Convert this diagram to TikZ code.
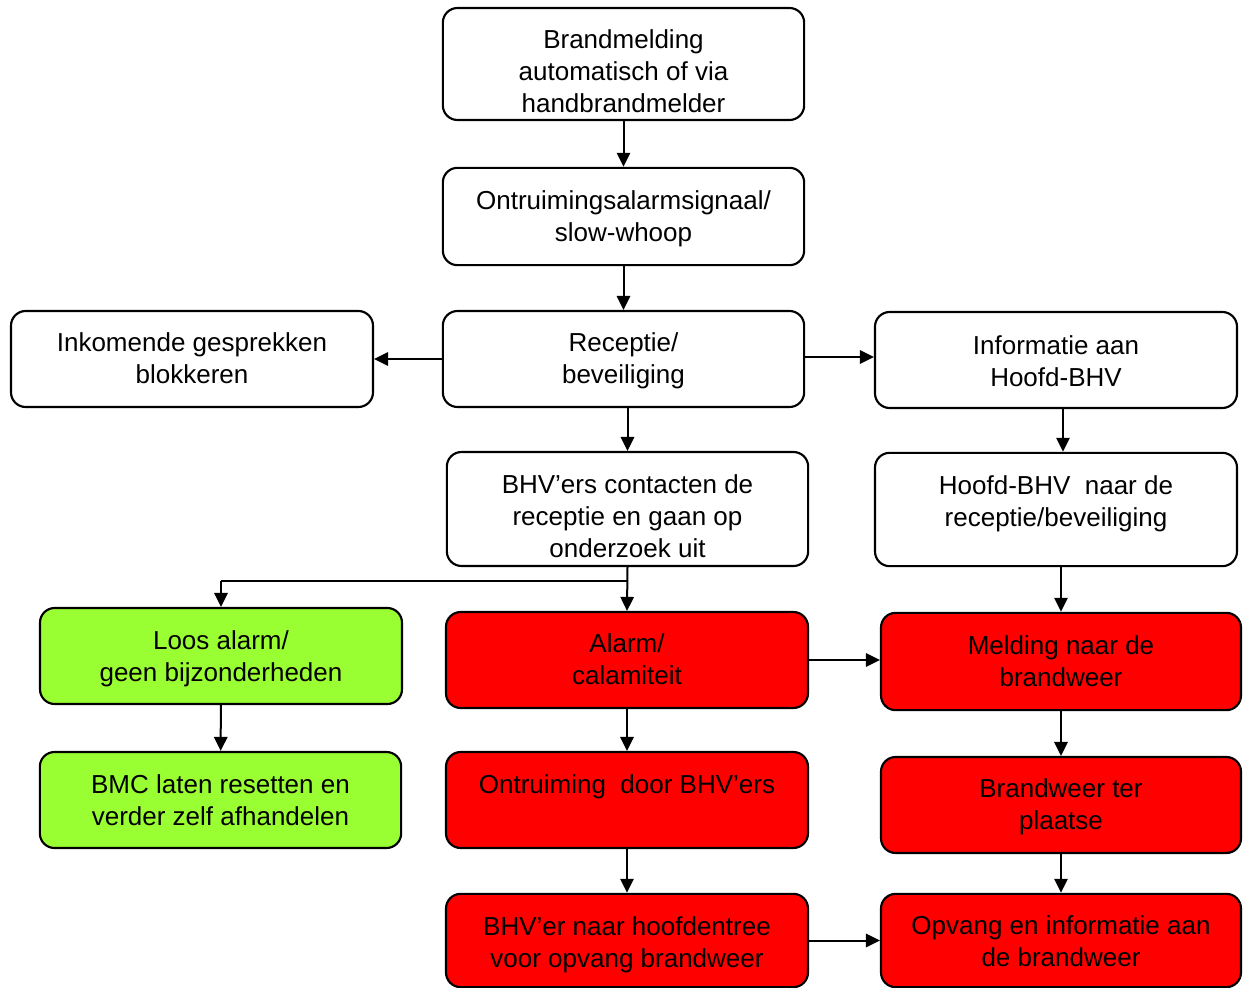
\documentclass[tikz,border=0pt]{standalone}
\usepackage{fontspec}
\setmainfont{Liberation Sans}
\usetikzlibrary{arrows.meta,calc}
\definecolor{boxgreen}{RGB}{153,255,51}
\definecolor{boxred}{RGB}{255,0,0}
\begin{document}
\begin{tikzpicture}[x=0.75pt,y=-0.75pt,
  box/.style={draw=black,line width=1.6pt,rounded corners=11pt,fill=white,inner sep=0pt},
  gbox/.style={box,fill=boxgreen},
  rbox/.style={box,fill=boxred},
  txt/.style={align=center,font=\fontsize{19.5}{24}\selectfont,inner sep=0pt},
  arr/.style={line width=1.5pt,-{Triangle[length=10.5pt,width=10pt]}}]
\useasboundingbox (0,0) rectangle (1243,988);
% boxes
\node[box,minimum width=271pt,minimum height=84pt] (b1) at (623.5,64) {};
\node[txt] at (623.5,71) {Brandmelding\\automatisch of via\\handbrandmelder};
\node[box,minimum width=271pt,minimum height=73pt] (b2) at (623.5,216.5) {};
\node[txt] at (623.5,219) {Ontruimingsalarmsignaal/\\slow-whoop};
\node[box,minimum width=271pt,minimum height=72pt] (b3) at (623.5,359) {};
\node[txt] at (623.5,361) {Receptie/\\beveiliging};
\node[box,minimum width=271.5pt,minimum height=72pt] (b4) at (192,359) {};
\node[txt] at (192,358) {Inkomende gesprekken\\blokkeren};
\node[box,minimum width=271.5pt,minimum height=72pt] (b5) at (1056,360) {};
\node[txt] at (1056,361) {Informatie aan\\Hoofd-BHV};
\node[box,minimum width=271pt,minimum height=85.5pt] (b6) at (627.5,509) {};
\node[txt] at (627.5,516) {BHV’ers contacten de\\receptie en gaan op\\onderzoek uit};
\node[box,minimum width=271.5pt,minimum height=85pt] (b7) at (1056,509.5) {};
\node[txt] at (1056,504) {Hoofd-BHV\ \ naar de\\receptie/beveiliging};
\node[gbox,minimum width=271.5pt,minimum height=72pt] (b8) at (221,656) {};
\node[txt] at (221,659) {Loos alarm/\\geen bijzonderheden};
\node[gbox,minimum width=271pt,minimum height=72pt] (b9) at (220.5,800) {};
\node[txt] at (220.5,800) {BMC laten resetten en\\verder zelf afhandelen};
\node[rbox,minimum width=271.5pt,minimum height=72pt] (b10) at (627,660) {};
\node[txt] at (627,659) {Alarm/\\calamiteit};
\node[rbox,minimum width=270pt,minimum height=73pt] (b11) at (1061,661.5) {};
\node[txt] at (1061,661) {Melding naar de\\brandweer};
\node[rbox,minimum width=271.5pt,minimum height=72pt] (b12) at (627,800) {};
\node[txt] at (627,787) {Ontruiming\ \ door BHV’ers};
\node[rbox,minimum width=270pt,minimum height=72pt] (b13) at (1061,805) {};
\node[txt] at (1061,807) {Brandweer ter\\plaatse};
\node[rbox,minimum width=271.5pt,minimum height=70pt] (b14) at (627,940.5) {};
\node[txt] at (627,945) {BHV’er naar hoofdentree\\voor opvang brandweer};
\node[rbox,minimum width=270pt,minimum height=70pt] (b15) at (1061,940.5) {};
\node[txt] at (1061,941) {Opvang en informatie aan\\de brandweer};
% connectors
\coordinate (fork) at (627.5,581);
\draw[arr] (b1) -- (b2);
\draw[arr] (b2) -- (b3);
\draw[arr] (b3) -- (b4);
\draw[arr] ([yshift=1.5pt]b3.east) -- ([yshift=1.5pt]b5.west |- b3.east);
\draw[arr] (b6.north |- b3.south) -- (b6.north);
\draw[arr] ([xshift=5.25pt]b5.south) -- ([xshift=5.25pt]b7.north);
\draw[arr] (b6.south) -- (b10.north);
\draw[line width=1.5pt] (fork) -- (fork -| b8.north);
\draw[arr] (fork -| b8.north) -- (b8.north);
\draw[arr] (b8) -- (b9);
\draw[arr] (b11.north |- b7.south) -- (b11.north);
\draw[arr] (b10.east) -- (b11.west |- b10.east);
\draw[arr] (b10) -- (b12);
\draw[arr] (b11) -- (b13);
\draw[arr] (b12) -- (b14);
\draw[arr] (b13) -- (b15);
\draw[arr] (b14) -- (b15);
\end{tikzpicture}
\end{document}
